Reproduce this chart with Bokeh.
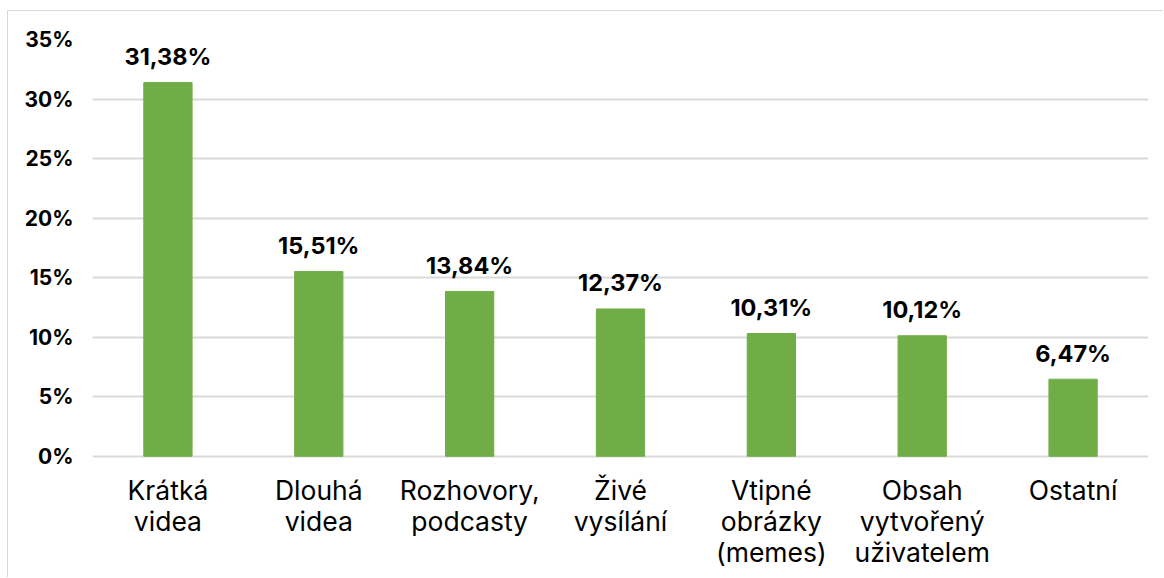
from bokeh.plotting import figure
from bokeh.models import ColumnDataSource, FixedTicker, PrintfTickFormatter, Range1d
from bokeh.core.properties import value
from bokeh.embed import file_html
from bokeh.resources import INLINE

categories = ["Krátká\nvidea", "Dlouhá\nvidea", "Rozhovory,\npodcasty", "Živé\nvysílání",
              "Vtipné\nobrázky\n(memes)", "Obsah\nvytvořený\nuživatelem", "Ostatní"]
values = [31.38, 15.51, 13.84, 12.37, 10.31, 10.12, 6.47]
labels = [f"{v:.2f}".replace(".", ",") + "%" for v in values]
y_ticks = [0, 5, 10, 15, 20, 25, 30, 35]

src = ColumnDataSource(dict(cat=categories, val=values, lab=labels))

# category label lines (one row per text line), drawn under the zero line
line_cat, line_txt, line_off, line_y = [], [], [], []
for c in categories:
    for i, t in enumerate(c.split("\n")):
        line_cat.append(c)
        line_txt.append(t)
        line_off.append(34 + 31 * i)
        line_y.append(0)
lsrc = ColumnDataSource(dict(cat=line_cat, txt=line_txt, off=line_off, y=line_y))

p = figure(x_range=categories, y_range=Range1d(-9.93, 35), width=1156, height=567,
           output_backend="svg", toolbar_location=None,
           min_border_left=84, min_border_right=16, min_border_top=28, min_border_bottom=4,
           styles={"margin-left": "7px", "margin-top": "10px",
                   "border-left": "1px solid #d9d9d9", "border-top": "1px solid #d9d9d9"})
p.outline_line_color = None
p.background_fill_color = "white"
p.border_fill_color = "white"

p.vbar(x="cat", top="val", width=0.32, source=src, color="#70ad47")
p.text(x="cat", y="val", text="lab", source=src, text_align="center",
       text_baseline="alphabetic", y_offset=-26, text_font=value("Inter"),
       text_font_style="bold", text_font_size="23.5px", text_color="#000000")

p.text(x="cat", y="y", text="txt", y_offset="off", source=lsrc,
       text_align="center", text_baseline="alphabetic",
       text_font=value("Inter"), text_font_size="26.5px", text_color="#000000")

p.yaxis.ticker = FixedTicker(ticks=y_ticks)
p.yaxis.formatter = PrintfTickFormatter(format="%d%%")
p.yaxis.axis_line_color = None
p.yaxis.major_tick_line_color = None
p.yaxis.minor_tick_line_color = None
p.yaxis.major_label_text_font = "Inter"
p.yaxis.major_label_text_font_style = "bold"
p.yaxis.major_label_text_font_size = "21px"
p.yaxis.major_label_text_color = "#000000"
p.yaxis.major_label_standoff = 13

p.xaxis.visible = False

p.xgrid.grid_line_color = None
p.ygrid.grid_line_color = "#d9d9d9"
p.ygrid.grid_line_width = 2

open("out.html", "w").write(file_html(p, INLINE))
